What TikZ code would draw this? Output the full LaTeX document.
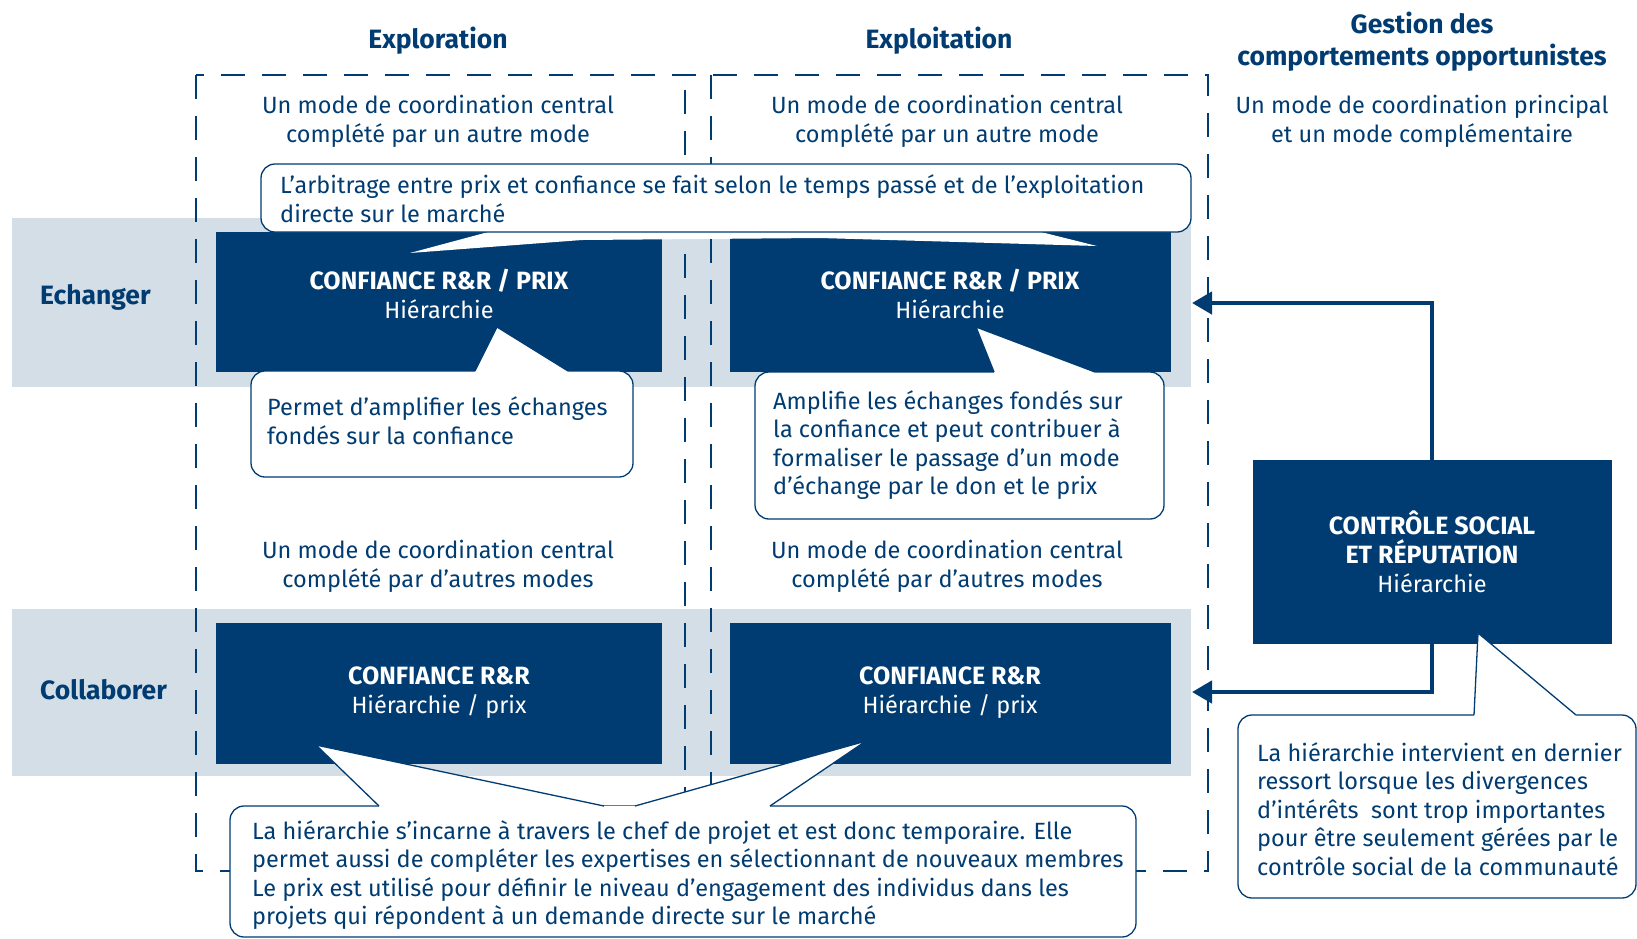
\documentclass[tikz,border=0pt]{standalone}
\usepackage{fontspec}
\setmainfont{Fira Sans}
\definecolor{DeepNavy}{RGB}{0,60,113}
\definecolor{BandGray}{RGB}{212,222,231}
\usetikzlibrary{arrows.meta}

\begin{document}
\begin{tikzpicture}[x=1pt,y=-1pt,
    band/.style={fill=BandGray},
    modebox/.style={fill=DeepNavy, text=white, align=center, inner sep=0pt,
      font=\fontsize{23.5}{29}\selectfont},
    bubble/.style={draw=DeepNavy, line width=1.3pt, fill=white, rounded corners=14pt},
    tipline/.style={draw=DeepNavy, line width=1.3pt},
    note/.style={text=DeepNavy, align=left, anchor=west, inner sep=0pt,
      font=\fontsize{23.5}{28.6}\selectfont},
    caption/.style={text=DeepNavy, align=center, inner sep=0pt,
      font=\fontsize{23.5}{29}\selectfont},
    heading/.style={text=DeepNavy, align=center, inner sep=0pt,
      font=\fontsize{26.5}{32}\selectfont\bfseries},
    dashframe/.style={DeepNavy, line width=1.6pt, dash pattern=on 24pt off 17pt},
    link/.style={DeepNavy, line width=4.5pt, -{Triangle[length=20pt,width=22pt]}}]

  \useasboundingbox (0,0) rectangle (1637,938);

  % row bands
  \fill[band] (12,218) rectangle (1191,387);
  \fill[band] (12,609) rectangle (1191,776);

  % dashed frame and column split
  \draw[dashframe] (196,75) rectangle (1208,871);
  \draw[dashframe] (685,90) -- (685,795);
  \draw[dashframe] (711,75) -- (711,806);

  % column headings
  \node[heading] (hExplor) at (438,41) {Exploration};
  \node[heading] (hExploit) at (939,41) {Exploitation};
  \node[heading] (hGestion) at (1422,42) {Gestion des\\comportements opportunistes};

  \node[caption] (capA) at (438,121) {Un mode de coordination central\\complété par un autre mode};
  \node[caption] (capB) at (947,121) {Un mode de coordination central\\complété par un autre mode};
  \node[caption] (capC) at (1422,121) {Un mode de coordination principal\\et un mode complémentaire};
  \node[caption] (capD) at (438,566) {Un mode de coordination central\\complété par d’autres modes};
  \node[caption] (capE) at (947,566) {Un mode de coordination central\\complété par d’autres modes};

  % row labels
  \node[heading, anchor=west] (rowEch) at (40,297) {Echanger};
  \node[heading, anchor=west] (rowCol) at (40,690) {Collaborer};

  % coordination modes
  \node[modebox, minimum width=446, minimum height=140, text depth=17pt] (bxA) at (439,302)
    {\textbf{\fontsize{25}{29}\selectfont CONFIANCE R\&R / PRIX}\\Hiérarchie};
  \node[modebox, minimum width=441, minimum height=140, text depth=17pt] (bxB) at (950,302)
    {\textbf{\fontsize{25}{29}\selectfont CONFIANCE R\&R / PRIX}\\Hiérarchie};
  \node[modebox, minimum width=446, minimum height=141] (bxC) at (439,693)
    {\textbf{\fontsize{25}{29}\selectfont CONFIANCE R\&R}\\Hiérarchie / prix};
  \node[modebox, minimum width=441, minimum height=141] (bxD) at (950,693)
    {\textbf{\fontsize{25}{29}\selectfont CONFIANCE R\&R}\\Hiérarchie / prix};
  \node[modebox, minimum width=359, minimum height=184] (bxE) at (1432,552)
    {\textbf{\fontsize{25}{29}\selectfont CONTRÔLE SOCIAL}\\\textbf{\fontsize{25}{29}\selectfont ET RÉPUTATION}\\Hiérarchie};

  % control loops back to the rows
  \coordinate (echIn) at (1192,303);
  \coordinate (colIn) at (1192,692);
  \draw[link] (bxE.north) |- (echIn);
  \draw[link] (bxE.south) |- (colIn);

  % top remark
  \fill[white] (492,231) -- (410,253) -- (582,240) -- (820,238) -- (1097,246) -- (1037,231) -- cycle;
  \draw[bubble] (261,164) rectangle (1191,232);
  \node[note] (nTop) at (280,199)
    {L’arbitrage entre prix et confiance se fait selon le temps passé et de l’exploitation\\directe sur le marché};

  % remark under exploration
  \draw[bubble] (251,371) rectangle (633,477);
  \fill[white] (475,371) -- (497,327) -- (568,371) -- (568,374) -- (475,374) -- cycle;
  \draw[tipline] (475,371) -- (497,327) -- (568,371);
  \node[note] (nExplor) at (267,421)
    {Permet d’amplifier les échanges\\fondés sur la confiance};

  % remark under exploitation
  \draw[bubble] (755,372) rectangle (1164,519);
  \fill[white] (994,372) -- (976,327) -- (1095,372) -- (1095,375) -- (994,375) -- cycle;
  \draw[tipline] (994,372) -- (976,327) -- (1095,372);
  \node[note] (nExploit) at (773,445)
    {Amplifie les échanges fondés sur\\la confiance et peut contribuer à\\formaliser le passage d’un mode\\d’échange par le don et le prix};

  % remark on project hierarchy
  \draw[bubble] (230,806) rectangle (1136,937);
  \fill[white] (379,806) -- (316,745) -- (604,806) -- (635,806) -- (866,741) -- (770,806)
    -- (770,809) -- (379,809) -- cycle;
  \draw[tipline] (379,806) -- (316,745) -- (604,806);
  \draw[tipline] (635,806) -- (866,741) -- (770,806);
  \node[note] (nCollab) at (252,875)
    {La hiérarchie s’incarne à travers le chef de projet et est donc temporaire. Elle\\permet aussi de compléter les expertises en sélectionnant de nouveaux membres\\Le prix est utilisé pour définir le niveau d’engagement des individus dans les\\projets qui répondent à un demande directe sur le marché};

  % remark on social control
  \draw[bubble] (1238,715) rectangle (1636,898);
  \fill[white] (1474,715) -- (1478,633) -- (1576,715) -- (1576,718) -- (1474,718) -- cycle;
  \draw[tipline] (1474,715) -- (1478,633) -- (1576,715);
  \node[note] (nCtrl) at (1257,809)
    {La hiérarchie intervient en dernier\\ressort lorsque les divergences\\d’intérêts\ \ sont trop importantes\\pour être seulement gérées par le\\contrôle social de la communauté};
\end{tikzpicture}
\end{document}
